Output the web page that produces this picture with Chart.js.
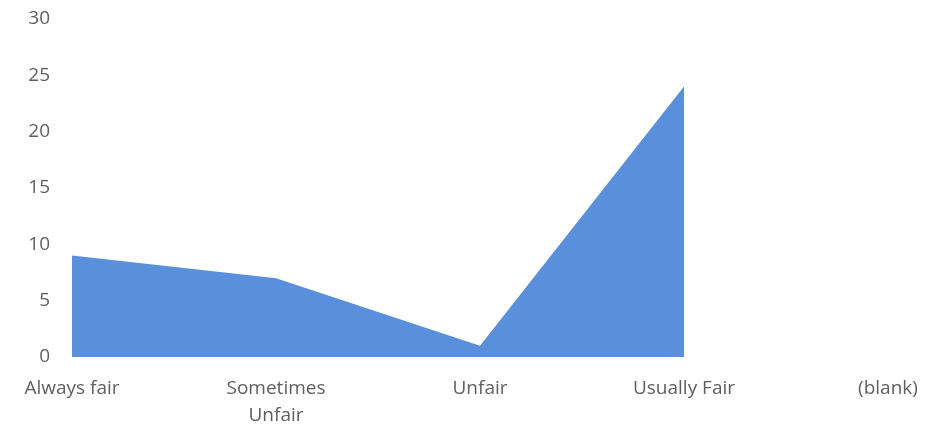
<!DOCTYPE html>
<html>
<head>
<meta charset="utf-8">
<script src="https://cdn.jsdelivr.net/npm/chart.js@4"></script>
<style>
  html, body { margin: 0; padding: 0; background: #fff; }
  #wrap { width: 946px; height: 434px; }
</style>
</head>
<body>
<div id="wrap"><canvas id="chart"></canvas></div>
<script>
// categories and values
const categories = ['Always fair', ['Sometimes', 'Unfair'], 'Unfair', 'Usually Fair', '(blank)'];
const counts = [9, 7, 1, 24, null];
const yTicks = [0, 5, 10, 15, 20, 25, 30];

const textColor = '#5f5f5f';
const fontFamily = "'Open Sans', 'Noto Sans', sans-serif";

const ctx = document.getElementById('chart').getContext('2d');
new Chart(ctx, {
  type: 'line',
  data: {
    labels: categories,
    datasets: [{
      label: 'Count',
      data: counts,
      fill: 'origin',
      backgroundColor: '#5a8fdc',
      borderWidth: 0,
      pointRadius: 0,
      tension: 0
    }]
  },
  options: {
    responsive: true,
    maintainAspectRatio: false,
    animation: false,
    layout: { padding: { top: 19, right: 58, bottom: 0, left: 10 } },
    plugins: {
      legend: { display: false },
      tooltip: { enabled: false }
    },
    scales: {
      x: {
        offset: false,
        grid: { display: false, drawTicks: false },
        border: { display: false },
        afterFit: (scale) => { scale.height = 77; },
        ticks: {
          color: textColor,
          font: { family: fontFamily, size: 19, lineHeight: 1.42 },
          padding: 18,
          maxRotation: 0,
          autoSkip: false
        }
      },
      y: {
        min: yTicks[0],
        max: yTicks[yTicks.length - 1],
        grid: { display: false, drawTicks: false },
        border: { display: false },
        afterFit: (scale) => {
          scale.width = 62;
          scale.paddingTop = 0;
          scale.paddingBottom = 0;
        },
        afterBuildTicks: (scale) => { scale.ticks = yTicks.map(v => ({ value: v })); },
        ticks: {
          color: textColor,
          font: { family: fontFamily, size: 19 },
          padding: 22
        }
      }
    }
  }
});
</script>
</body>
</html>
